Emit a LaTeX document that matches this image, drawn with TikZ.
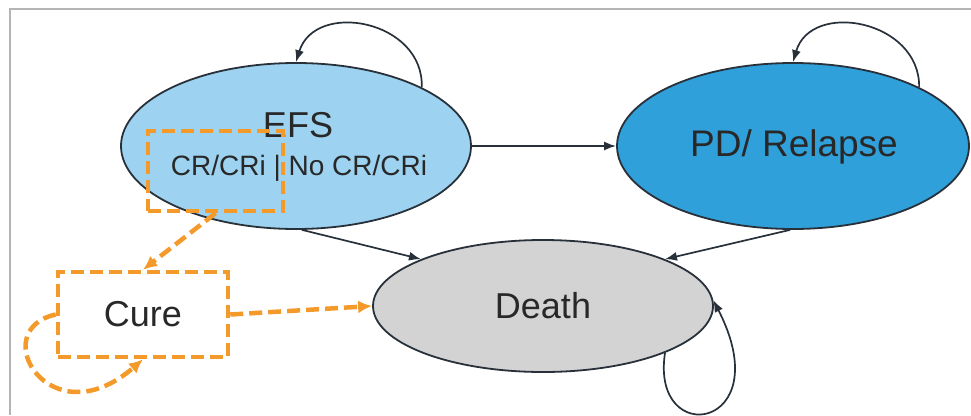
\documentclass[tikz,border=0pt]{standalone}
\usepackage{fontspec}
\setmainfont{Liberation Sans}
\usetikzlibrary{arrows.meta,shapes.geometric}
\definecolor{efsblue}{RGB}{157,211,240}
\definecolor{pdblue}{RGB}{48,160,218}
\definecolor{deathgray}{RGB}{211,211,211}
\definecolor{orng}{RGB}{243,154,43}
\definecolor{ink}{RGB}{40,48,58}
\definecolor{frame}{RGB}{180,180,180}
\definecolor{txt}{RGB}{40,40,40}
\tikzset{
  state/.style={ellipse, draw=ink, line width=1.8pt, inner sep=0pt},
  lbl/.style={text=txt, inner sep=0pt, anchor=center},
  trans/.style={draw=ink, line width=1.7pt, -{Latex[length=12pt,width=9pt]}},
  obox/.style={draw=orng, line width=4.5pt, dash pattern=on 13pt off 6pt, inner sep=0pt},
  otrans/.style={draw=orng, line width=4.5pt, dash pattern=on 13pt off 6pt, -{Latex[length=14pt,width=13pt]}}
}
\begin{document}
\begin{tikzpicture}[x=1pt,y=-1pt]
\useasboundingbox (0,0) rectangle (971,415);
% frame
\draw[frame, line width=1.5pt] (9,9) -- (971,9);
\draw[frame, line width=1.5pt] (10,9) -- (10,415);
% states
\node[state, fill=efsblue, minimum width=350pt, minimum height=166pt] (efs) at (296,146) {};
\node[state, fill=pdblue, minimum width=352pt, minimum height=166pt] (pd) at (793,146) {};
\node[state, fill=deathgray, minimum width=340pt, minimum height=132pt] (death) at (543,306) {};
% labels
\node[lbl, font=\fontsize{36}{40}\selectfont] (efslbl) at (298,125) {EFS};
\node[lbl, font=\fontsize{28}{32}\selectfont] (crlbl) at (299,168) {CR/CRi | No CR/CRi};
\node[lbl, font=\fontsize{37}{42}\selectfont] (pdlbl) at (794,147) {PD/ Relapse};
\node[lbl, font=\fontsize{36}{40}\selectfont] (deathlbl) at (543,306) {Death};
% orange boxes
\node[obox, minimum width=135pt, minimum height=80pt] (crbox) at (215.5,171) {};
\node[obox, minimum width=170pt, minimum height=85pt, font=\fontsize{36}{40}\selectfont, text=txt] (cure) at (143,314.5) {Cure};
% transitions
\draw[trans] (efs.east) -- (pd.west);
\draw[trans] (efs.-86) -- (death.159);
\draw[trans] (pd.-92) -- (death.21);
\draw[trans] (efs.25) .. controls (424,20) and (315,0) .. (efs.north);
\draw[trans] (pd.25) .. controls (920,20) and (811,0) .. (pd.north);
\draw[trans] (death.-21) .. controls (650,450) and (780,430) .. (death.2);
% orange transitions
\draw[otrans] (crbox.south) -- (cure.north);
\draw[otrans] (cure.east) -- (death.west);
\draw[otrans] (cure.west) .. controls (-15,330) and (50,440) .. (cure.south);
\end{tikzpicture}
\end{document}
